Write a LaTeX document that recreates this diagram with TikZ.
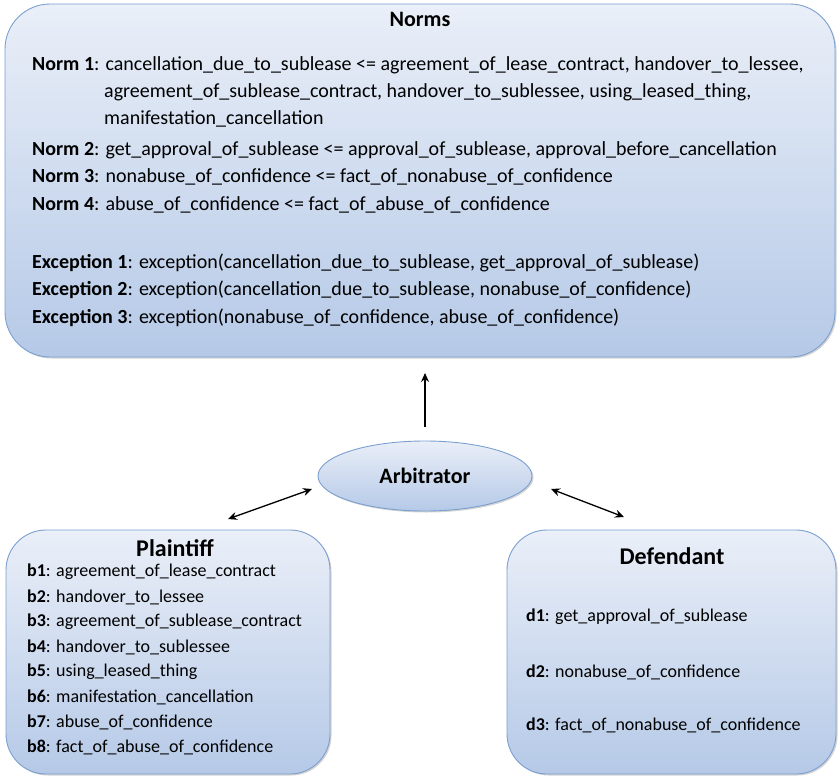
\documentclass[tikz,border=0pt]{standalone}
\usepackage{fontspec}
\setmainfont{Carlito}
\usetikzlibrary{shadows,arrows.meta,shapes.geometric}
\definecolor{boxtop}{HTML}{EAEFF8}
\definecolor{boxbot}{HTML}{B5C9E7}
\definecolor{boxedge}{HTML}{7BA0D0}
\tikzset{
  panel/.style={draw=boxedge, line width=0.9pt, top color=boxtop, bottom color=boxbot,
    drop shadow={shadow xshift=1.5pt, shadow yshift=-1.5pt, opacity=0.35}},
  txt/.style={anchor=west, inner sep=0pt, font=\fontsize{20}{24}\selectfont},
  sml/.style={anchor=west, inner sep=0pt, font=\fontsize{18}{22}\selectfont},
  ttl/.style={inner sep=0pt, font=\fontsize{24}{28}\selectfont\bfseries},
  conn/.style={line width=1.3pt, -{Stealth[length=9pt,width=8pt,inset=3pt]}},
  dconn/.style={line width=1.3pt, {Stealth[length=9pt,width=8pt,inset=3pt]}-{Stealth[length=9pt,width=8pt,inset=3pt]}}
}
\begin{document}
\begin{tikzpicture}[x=1pt,y=-1pt]
\useasboundingbox (0,0) rectangle (838,779);
% panels
\draw[panel, rounded corners=45pt] (5,4) rectangle (835,357);
\draw[panel, rounded corners=40pt] (6,530) rectangle (330,774);
\draw[panel, rounded corners=40pt] (507,530) rectangle (836,774);
\node[panel, ellipse, minimum width=214pt, minimum height=70pt, inner sep=0pt,
  font=\fontsize{22}{26}\selectfont\bfseries] (arb) at (425,476) {Arbitrator};
% Norms
\node[ttl, font=\fontsize{22}{26}\selectfont\bfseries] (normsT) at (420,19) {Norms};
\node[txt] (n1a) at (32,65) {\textbf{Norm 1}: cancellation\_due\_to\_sublease <= agreement\_of\_lease\_contract, handover\_to\_lessee,};
\node[txt] (n1b) at (104,92) {agreement\_of\_sublease\_contract, handover\_to\_sublessee, using\_leased\_thing,};
\node[txt] (n1c) at (104,119) {manifestation\_cancellation};
\node[txt] (n2) at (32,150) {\textbf{Norm 2}: get\_approval\_of\_sublease <= approval\_of\_sublease, approval\_before\_cancellation};
\node[txt] (n3) at (32,177) {\textbf{Norm 3}: nonabuse\_of\_confidence <= fact\_of\_nonabuse\_of\_confidence};
\node[txt] (n4) at (32,205) {\textbf{Norm 4}: abuse\_of\_confidence <= fact\_of\_abuse\_of\_confidence};
\node[txt] (e1) at (32,263) {\textbf{Exception 1}: exception(cancellation\_due\_to\_sublease, get\_approval\_of\_sublease)};
\node[txt] (e2) at (32,290) {\textbf{Exception 2}: exception(cancellation\_due\_to\_sublease, nonabuse\_of\_confidence)};
\node[txt] (e3) at (32,318) {\textbf{Exception 3}: exception(nonabuse\_of\_confidence, abuse\_of\_confidence)};
\coordinate (normsB) at (425,373);
% Plaintiff
\node[ttl] (plT) at (175,548) {Plaintiff};
\node[sml] (b1) at (27,572) {\textbf{b1}: agreement\_of\_lease\_contract};
\node[sml] (b2) at (27,597) {\textbf{b2}: handover\_to\_lessee};
\node[sml] (b3) at (27,622) {\textbf{b3}: agreement\_of\_sublease\_contract};
\node[sml] (b4) at (27,647) {\textbf{b4}: handover\_to\_sublessee};
\node[sml] (b5) at (27,672) {\textbf{b5}: using\_leased\_thing};
\node[sml] (b6) at (27,697) {\textbf{b6}: manifestation\_cancellation};
\node[sml] (b7) at (27,722) {\textbf{b7}: abuse\_of\_confidence};
\node[sml] (b8) at (27,747) {\textbf{b8}: fact\_of\_abuse\_of\_confidence};
% Defendant
\node[ttl] (dfT) at (672,556) {Defendant};
\node[sml] (d1) at (526,617) {\textbf{d1}: get\_approval\_of\_sublease};
\node[sml] (d2) at (526,672) {\textbf{d2}: nonabuse\_of\_confidence};
\node[sml] (d3) at (526,725) {\textbf{d3}: fact\_of\_nonabuse\_of\_confidence};
% connectors
\coordinate (arbT) at (425,427);
\coordinate (plA) at (228,519);
\coordinate (arbL) at (312,489);
\coordinate (arbR) at (551,489);
\coordinate (dfA) at (624,517);
\draw[conn] (arbT) -- (normsB);
\draw[dconn] (plA) -- (arbL);
\draw[dconn] (arbR) -- (dfA);
\end{tikzpicture}
\end{document}
